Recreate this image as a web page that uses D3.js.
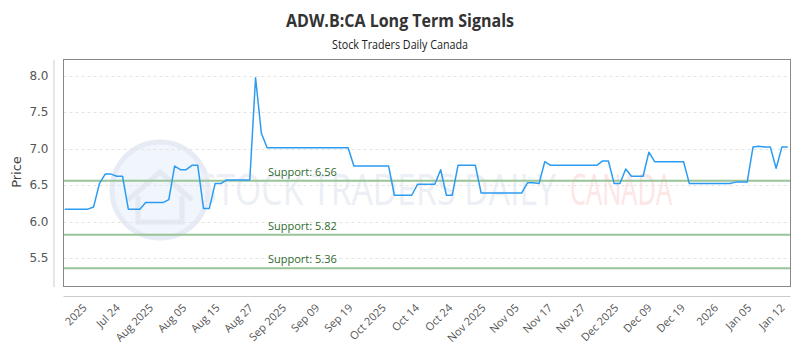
<!DOCTYPE html>
<html>
<head>
<meta charset="utf-8">
<script src="https://cdn.jsdelivr.net/npm/d3@7"></script>
<style>
  body { margin: 0; background: #fff; }
  svg { display: block; font-family: "Open Sans", sans-serif; }
</style>
</head>
<body>
<div id="chart"></div>
<script>
// Daily closes, one per trading day
const prices = [
    6.17, 6.17, 6.17, 6.17, 6.17, 6.20, 6.52, 6.65, 6.65, 6.62,
    6.62, 6.17, 6.17, 6.17, 6.26, 6.26, 6.26, 6.26, 6.30, 6.76,
    6.71, 6.71, 6.77, 6.77, 6.18, 6.18, 6.52, 6.52, 6.57, 6.57,
    6.57, 6.57, 6.57, 7.97, 7.21, 7.01, 7.01, 7.01, 7.01, 7.01,
    7.01, 7.01, 7.01, 7.01, 7.01, 7.01, 7.01, 7.01, 7.01, 7.01,
    6.76, 6.76, 6.76, 6.76, 6.76, 6.76, 6.76, 6.36, 6.36, 6.36,
    6.36, 6.51, 6.51, 6.51, 6.51, 6.71, 6.36, 6.36, 6.77, 6.77,
    6.77, 6.77, 6.39, 6.39, 6.39, 6.39, 6.39, 6.39, 6.39, 6.39,
    6.53, 6.53, 6.52, 6.82, 6.77, 6.77, 6.77, 6.77, 6.77, 6.77,
    6.77, 6.77, 6.77, 6.83, 6.83, 6.52, 6.52, 6.72, 6.62, 6.62,
    6.62, 6.95, 6.82, 6.82, 6.82, 6.82, 6.82, 6.82, 6.52, 6.52,
    6.52, 6.52, 6.52, 6.52, 6.52, 6.52, 6.54, 6.54, 6.54, 7.02,
    7.03, 7.02, 7.02, 6.73, 7.02, 7.02
];

const supports = [6.56, 5.82, 5.36];

const xLabels = [
    "2025", "Jul 24", "Aug 2025", "Aug 05", "Aug 15", "Aug 27", "Sep 2025",
    "Sep 09", "Sep 19", "Oct 2025", "Oct 14", "Oct 24", "Nov 2025", "Nov 05",
    "Nov 17", "Nov 27", "Dec 2025", "Dec 09", "Dec 19", "2026", "Jan 05", "Jan 12"
];

const yTicks = [5.5, 6.0, 6.5, 7.0, 7.5, 8.0];

const width = 800;
const height = 350;

// Plot frame
const plot = { left: 63.5, right: 790.5, top: 59.5, bottom: 286.5 };

const svg = d3.select("#chart").append("svg")
    .attr("width", width)
    .attr("height", height);

// Scales
let allValues = prices.concat(supports);
let yScale = d3.scaleLinear()
    .domain([d3.min(allValues) - 0.25, d3.max(allValues) + 0.25])
    .range([plot.bottom, plot.top]);

let xScale = d3.scaleLinear()
    .domain([0, prices.length - 1])
    .range([plot.left + 1.2, plot.right - 2.8]);

let labelScale = d3.scalePoint()
    .domain(xLabels)
    .range([84, 782]);

// Title and subtitle
svg.append("text")
    .attr("x", width / 2)
    .attr("y", 27)
    .attr("text-anchor", "middle")
    .attr("font-family", "'Open Sans', sans-serif")
    .attr("font-weight", "bold")
    .attr("font-size", 18)
    .attr("textLength", 228)
    .attr("lengthAdjust", "spacingAndGlyphs")
    .attr("fill", "#333")
    .text("ADW.B:CA Long Term Signals");

svg.append("text")
    .attr("x", width / 2)
    .attr("y", 49)
    .attr("text-anchor", "middle")
    .attr("font-family", "'Open Sans', sans-serif")
    .attr("font-size", 12)
    .attr("textLength", 136)
    .attr("lengthAdjust", "spacingAndGlyphs")
    .attr("fill", "#222")
    .text("Stock Traders Daily Canada");

// Watermark
let mark = svg.append("g").attr("pointer-events", "none");
mark.append("circle")
    .attr("cx", 160)
    .attr("cy", 190)
    .attr("r", 48)
    .attr("fill", "#f1f5fc")
    .attr("stroke", "#e6ebf5")
    .attr("stroke-width", 5);
mark.append("path")
    .attr("d", "M128,200 L160,172 L192,200 M138,196 V222 H182 V196")
    .attr("fill", "none")
    .attr("stroke", "#e4e9f2")
    .attr("stroke-width", 5);
mark.append("text")
    .attr("x", 198)
    .attr("y", 205)
    .attr("font-family", "'Open Sans', sans-serif")
    .attr("font-size", 44)
    .attr("textLength", 358)
    .attr("lengthAdjust", "spacingAndGlyphs")
    .attr("fill", "#eceff5")
    .text("STOCK TRADERS DAILY");
mark.append("text")
    .attr("x", 570)
    .attr("y", 205)
    .attr("font-family", "'Open Sans', sans-serif")
    .attr("font-size", 44)
    .attr("textLength", 102)
    .attr("lengthAdjust", "spacingAndGlyphs")
    .attr("fill", "#fde6e6")
    .text("CANADA");

// Horizontal grid lines
svg.append("g")
    .selectAll("line")
    .data(yTicks)
    .enter().append("line")
        .attr("x1", plot.left)
        .attr("x2", plot.right)
        .attr("y1", d => Math.round(yScale(d)) + 0.5)
        .attr("y2", d => Math.round(yScale(d)) + 0.5)
        .attr("stroke", "#e3e3e3")
        .attr("stroke-dasharray", "3,3");

// Y axis (offset to the left of the frame)
let yAxis = d3.axisLeft(yScale)
    .tickValues(yTicks)
    .tickFormat(d3.format(".1f"))
    .tickSize(0)
    .tickPadding(5);
let yAxisG = svg.append("g")
    .attr("transform", "translate(53.5,0)")
    .call(yAxis);
yAxisG.select(".domain").attr("stroke", "#ccc");
yAxisG.selectAll("text")
    .attr("font-family", "'DejaVu Sans', sans-serif")
    .attr("font-size", 12)
    .attr("fill", "#555");

svg.append("text")
    .attr("transform", "translate(21,172) rotate(-90)")
    .attr("text-anchor", "middle")
    .attr("font-family", "'DejaVu Sans', sans-serif")
    .attr("font-size", 13)
    .attr("fill", "#444")
    .text("Price");

// X axis (offset below the frame)
let xAxis = d3.axisBottom(labelScale)
    .tickSize(0)
    .tickPadding(0);
let xAxisG = svg.append("g")
    .attr("transform", "translate(0,296.5)")
    .call(xAxis);
xAxisG.select(".domain")
    .attr("stroke", "#ccc")
    .attr("d", `M${plot.left},0H${plot.right}`);
xAxisG.selectAll("text")
    .attr("font-family", "'Open Sans', sans-serif")
    .attr("font-size", 11)
    .attr("fill", "#555")
    .attr("text-anchor", "end")
    .attr("dy", null)
    .attr("y", 0)
    .attr("transform", "translate(3,12) rotate(-45)");

// Support lines
let supportG = svg.append("g");
supports.forEach(level => {
    supportG.append("line")
        .attr("x1", plot.left)
        .attr("x2", plot.right)
        .attr("y1", yScale(level))
        .attr("y2", yScale(level))
        .attr("stroke", "#98c498")
        .attr("stroke-width", 2);
    supportG.append("text")
        .attr("x", 268)
        .attr("y", yScale(level) - 5)
        .attr("font-family", "'Open Sans', sans-serif")
        .attr("font-size", 11)
        .attr("fill", "#2e6b2e")
        .text("Support: " + level.toFixed(2));
});

// Price line
let line = d3.line()
    .x((d, i) => xScale(i))
    .y(d => yScale(d));
svg.append("path")
    .datum(prices)
    .attr("fill", "none")
    .attr("stroke", "#2b9cf2")
    .attr("stroke-width", 1.5)
    .attr("stroke-linejoin", "round")
    .attr("d", line);

// Plot frame
svg.append("rect")
    .attr("x", plot.left)
    .attr("y", plot.top)
    .attr("width", plot.right - plot.left)
    .attr("height", plot.bottom - plot.top)
    .attr("fill", "none")
    .attr("stroke", "#888")
    .attr("stroke-width", 1);
</script>
</body>
</html>
